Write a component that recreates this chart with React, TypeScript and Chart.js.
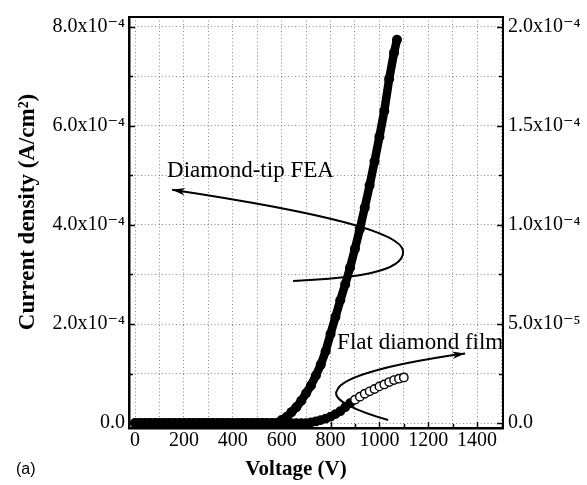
import { useEffect, useRef } from 'react';
import { Chart, registerables } from 'chart.js';

Chart.register(...registerables);

// ---- data ----
const feaVoltage = [
  0, 20, 40, 60, 80, 100, 120, 140, 160, 180, 200, 220, 240, 260, 280, 300, 320, 340, 360, 380,
  400, 420, 440, 460, 480, 500, 520, 540, 560, 580, 600, 620, 640, 660, 680, 700, 720, 740, 760,
  780, 800, 820, 840, 860, 880, 900, 920, 940, 960, 980, 1000, 1020, 1040, 1060, 1072,
];
const feaCurrent = [
  0, 0, 0, 0, 0, 0, 0, 0, 0, 0, 0, 0, 0, 0, 0, 0, 0, 0, 0, 0,
  0, 0, 0, 0, 0, 0, 0, 0, 0, 0, 0.06e-4, 0.12e-4, 0.22e-4, 0.32e-4, 0.45e-4, 0.6e-4, 0.76e-4,
  0.96e-4, 1.18e-4, 1.45e-4, 1.8e-4, 2.14e-4, 2.48e-4, 2.8e-4, 3.14e-4, 3.52e-4, 3.92e-4,
  4.35e-4, 4.8e-4, 5.28e-4, 5.78e-4, 6.3e-4, 6.95e-4, 7.48e-4, 7.74e-4,
];
const filmVoltage = [
  0, 20, 40, 60, 80, 100, 120, 140, 160, 180, 200, 220, 240, 260, 280, 300, 320, 340, 360, 380,
  400, 420, 440, 460, 480, 500, 520, 540, 560, 580, 600, 620, 640, 660, 680, 700, 720, 740, 760,
  780, 800, 820, 840, 860, 880, 900, 920, 940, 960, 980, 1000, 1020, 1040, 1060, 1080, 1100,
];
const filmCurrent = [
  0, 0, 0, 0, 0, 0, 0, 0, 0, 0, 0, 0, 0, 0, 0, 0, 0, 0, 0, 0,
  0, 0, 0, 0, 0, 0, 0, 0, 0, 0, 0, 0, 0, 0, 0, 0, 0.03e-5, 0.08e-5, 0.15e-5,
  0.22e-5, 0.32e-5, 0.45e-5, 0.6e-5, 0.8e-5, 1.0e-5, 1.18e-5, 1.33e-5, 1.48e-5, 1.6e-5,
  1.72e-5, 1.85e-5, 1.95e-5, 2.07e-5, 2.17e-5, 2.24e-5, 2.3e-5,
];

const xTickValues = [0, 200, 400, 600, 800, 1000, 1200, 1400];
const xTickLabels = ['0', '200', '400', '600', '800', '1000', '1200', '1400'];
const leftTickValues = [0, 2e-4, 4e-4, 6e-4, 8e-4];
const leftTickLabels = ['0.0', '2.0x10⁻⁴', '4.0x10⁻⁴', '6.0x10⁻⁴', '8.0x10⁻⁴'];
const rightTickValues = [0, 5e-5, 1e-4, 1.5e-4, 2e-4];
const rightTickLabels = ['0.0', '5.0x10⁻⁵', '1.0x10⁻⁴', '1.5x10⁻⁴', '2.0x10⁻⁴'];

const seriesNames = ['Diamond-tip FEA', 'Flat diamond film'];
const xTitle = 'Voltage (V)';
const yTitle = 'Current density (A/cm²)';
const panelLabel = '(a)';

// annotation arrows (in data units of x / left y)
const feaArrow = [
  [646.8, 2.867e-4], [880.1, 2.927e-4], [1101.2, 3.028e-4], [1097.1, 3.469e-4],
  [1093.0, 3.83e-4], [798.2, 4.231e-4], [151.5, 4.712e-4],
];
const filmArrow = [
  [1035.7, 0.06e-4], [921.0, 0.221e-4], [798.2, 0.461e-4], [826.9, 0.662e-4],
  [847.4, 0.962e-4], [1084.8, 1.223e-4], [1350.9, 1.404e-4],
];
const feaLabelAt = [131, 4.972e-4];
const filmLabelAt = [826.9, 1.504e-4];

const SERIF = '"Liberation Serif", "DejaVu Serif", serif';

function labelFor(v: number, values: number[], labels: string[], tol: number) {
  for (let i = 0; i < values.length; i++) {
    if (Math.abs(v - values[i]) < tol) return labels[i];
  }
  return '';
}

const overlayPlugin = {
  id: 'overlay',
  afterDatasetsDraw(chart: any) {
    const { ctx, scales } = chart;
    const xs = scales.x;
    const ys = scales.y;
    const px = (p: number[]) => [xs.getPixelForValue(p[0]), ys.getPixelForValue(p[1])];

    ctx.save();
    ctx.strokeStyle = '#000';
    ctx.fillStyle = '#000';

    const drawArrow = (pts: number[][]) => {
      const P = pts.map(px);
      ctx.lineWidth = 2;
      ctx.beginPath();
      ctx.moveTo(P[0][0], P[0][1]);
      ctx.bezierCurveTo(P[1][0], P[1][1], P[2][0], P[2][1], P[3][0], P[3][1]);
      ctx.bezierCurveTo(P[4][0], P[4][1], P[5][0], P[5][1], P[6][0], P[6][1]);
      ctx.stroke();
      const tip = P[6];
      const from = P[5];
      const ang = Math.atan2(tip[1] - from[1], tip[0] - from[0]);
      const len = 13;
      const half = 3.8;
      ctx.beginPath();
      ctx.moveTo(tip[0], tip[1]);
      ctx.lineTo(
        tip[0] - len * Math.cos(ang) + half * Math.sin(ang),
        tip[1] - len * Math.sin(ang) - half * Math.cos(ang)
      );
      ctx.lineTo(tip[0] - len * 0.7 * Math.cos(ang), tip[1] - len * 0.7 * Math.sin(ang));
      ctx.lineTo(
        tip[0] - len * Math.cos(ang) - half * Math.sin(ang),
        tip[1] - len * Math.sin(ang) + half * Math.cos(ang)
      );
      ctx.closePath();
      ctx.fill();
    };
    drawArrow(feaArrow);
    drawArrow(filmArrow);

    ctx.font = `23px ${SERIF}`;
    ctx.textAlign = 'left';
    ctx.textBaseline = 'alphabetic';
    const a = px(feaLabelAt);
    ctx.fillText(seriesNames[0], a[0], a[1]);
    const b = px(filmLabelAt);
    ctx.fillText(seriesNames[1], b[0], b[1]);

    ctx.restore();
  },
  afterDraw(chart: any) {
    const { ctx, chartArea, scales } = chart;
    ctx.save();
    ctx.strokeStyle = '#000';
    // top frame line
    ctx.lineWidth = 2;
    ctx.beginPath();
    ctx.moveTo(chartArea.left, chartArea.top);
    ctx.lineTo(chartArea.right, chartArea.top);
    ctx.stroke();

    // inward tick marks
    ctx.lineWidth = 1.5;
    const major = 6;
    const minor = 4;
    for (const t of scales.x.ticks) {
      const p = Math.round(scales.x.getPixelForValue(t.value)) + 0.5;
      const l = t.label ? major : minor;
      ctx.beginPath();
      ctx.moveTo(p, chartArea.bottom);
      ctx.lineTo(p, chartArea.bottom - l);
      ctx.stroke();
    }
    for (const t of scales.y.ticks) {
      const p = Math.round(scales.y.getPixelForValue(t.value)) + 0.5;
      const l = t.label ? major : minor;
      ctx.beginPath();
      ctx.moveTo(chartArea.left, p);
      ctx.lineTo(chartArea.left + l, p);
      ctx.stroke();
    }
    for (const t of scales.y2.ticks) {
      const p = Math.round(scales.y2.getPixelForValue(t.value)) + 0.5;
      const l = t.label ? major : minor;
      ctx.beginPath();
      ctx.moveTo(chartArea.right, p);
      ctx.lineTo(chartArea.right - l, p);
      ctx.stroke();
    }

    // axis titles and panel label
    ctx.fillStyle = '#000';
    ctx.font = `bold 21px ${SERIF}`;
    ctx.textAlign = 'center';
    ctx.textBaseline = 'middle';
    ctx.fillText(xTitle, 296, 470);

    ctx.save();
    ctx.translate(28, 212);
    ctx.rotate(-Math.PI / 2);
    ctx.font = `bold 23px ${SERIF}`;
    ctx.fillText(yTitle, 0, 0);
    ctx.restore();

    ctx.font = '16px "Liberation Sans", Arial, sans-serif';
    ctx.textAlign = 'left';
    ctx.fillText(panelLabel, 16, 470);
    ctx.restore();
  },
};

export default function App() {
  const ref = useRef<HTMLCanvasElement>(null);

  useEffect(() => {
    const canvas = ref.current;
    if (!canvas) return;
    Chart.defaults.font.family = SERIF;
    Chart.defaults.color = '#000';

    const gridColor = 'rgba(0,0,0,0.45)';
    const chart = new Chart(canvas, {
      type: 'scatter',
      data: {
        datasets: [
          {
            label: seriesNames[0],
            data: feaVoltage.map((v, i) => ({ x: v, y: feaCurrent[i] })),
            yAxisID: 'y',
            showLine: true,
            borderColor: '#000',
            borderWidth: 8.5,
            pointRadius: 5,
            pointBackgroundColor: '#000',
            pointBorderWidth: 0,
            tension: 0,
          },
          {
            label: seriesNames[1],
            data: filmVoltage.map((v, i) => ({ x: v, y: filmCurrent[i] })),
            yAxisID: 'y2',
            showLine: true,
            borderColor: '#000',
            borderWidth: 6.5,
            segment: {
              borderColor: (c: any) => (c.p0.parsed.x >= 900 ? 'rgba(0,0,0,0)' : '#000'),
            },
            pointRadius: 4.2,
            pointBorderWidth: 1.4,
            pointBorderColor: '#000',
            pointBackgroundColor: (c: any) => (c.raw && c.raw.x >= 900 ? '#fff' : '#000'),
            tension: 0,
          },
        ],
      },
      options: {
        animation: false,
        responsive: false,
        events: [],
        layout: { padding: { top: 14, left: 0, right: 0, bottom: 0 } },
        plugins: { legend: { display: false }, tooltip: { enabled: false } },
        scales: {
          x: {
            type: 'linear',
            min: -25,
            max: 1506,
            afterFit: (s: any) => { s.height = 57; },
            grid: { color: gridColor, lineWidth: 1, drawTicks: false, tickLength: 0 },
            border: { display: true, color: '#000', width: 2.5, dash: [1, 2.5] },
            ticks: {
              stepSize: 100,
              includeBounds: false,
              autoSkip: false,
              maxRotation: 0,
              padding: 1,
              font: { size: 20, family: SERIF },
              color: '#000',
              callback: (v: any) => labelFor(Number(v), xTickValues, xTickLabels, 1),
            },
          },
          y: {
            type: 'linear',
            position: 'left',
            min: -1e-5,
            max: 8.2e-4,
            afterFit: (s: any) => { s.width = 129; },
            grid: { color: gridColor, lineWidth: 1, drawTicks: false, tickLength: 0 },
            border: { display: true, color: '#000', width: 2.5, dash: [1, 2.5] },
            ticks: {
              stepSize: 1e-4,
              includeBounds: false,
              autoSkip: false,
              padding: 4,
              font: { size: 20, family: SERIF },
              color: '#000',
              callback: (v: any) => labelFor(Number(v), leftTickValues, leftTickLabels, 1e-6),
            },
          },
          y2: {
            type: 'linear',
            position: 'right',
            min: -2.5e-6,
            max: 2.05e-4,
            afterFit: (s: any) => { s.width = 84; },
            grid: { display: true, color: 'rgba(0,0,0,0)', drawTicks: false, tickLength: 0, drawOnChartArea: false },
            border: { display: true, color: '#000', width: 2 },
            ticks: {
              stepSize: 2.5e-5,
              includeBounds: false,
              autoSkip: false,
              padding: 5,
              font: { size: 20, family: SERIF },
              color: '#000',
              callback: (v: any) => labelFor(Number(v), rightTickValues, rightTickLabels, 1e-7),
            },
          },
        },
      },
      plugins: [overlayPlugin],
    } as any);

    return () => chart.destroy();
  }, []);

  return (
    <div style={{ position: 'fixed', left: 0, top: 0, width: 587, height: 485, background: '#fff' }}>
      <canvas ref={ref} width={587} height={485} style={{ display: 'block', width: 587, height: 485 }} />
    </div>
  );
}
